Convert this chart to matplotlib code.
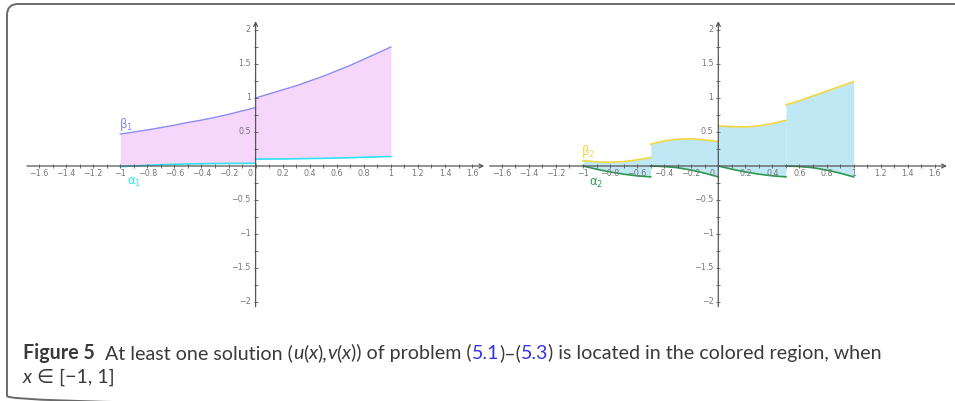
import matplotlib
matplotlib.use("Agg")
import matplotlib.pyplot as plt
from matplotlib.patches import FancyBboxPatch
import numpy as np

# ---------------- data ----------------
# left panel: bounds beta_1 (upper) and alpha_1 (lower), two pieces split at x = 0
x1_left = [-1.0, -0.9, -0.8, -0.7, -0.6, -0.5, -0.4, -0.3, -0.2, -0.1, 0.0]
beta1_left = [0.47, 0.50, 0.53, 0.565, 0.60, 0.64, 0.675, 0.715, 0.76, 0.81, 0.86]
alpha1_left = [-0.01, 0.0, 0.01, 0.018, 0.025, 0.03, 0.033, 0.036, 0.038, 0.039, 0.04]

x1_right = [0.0, 0.1, 0.2, 0.3, 0.4, 0.5, 0.6, 0.7, 0.8, 0.9, 1.0]
beta1_right = [1.00, 1.06, 1.12, 1.18, 1.25, 1.32, 1.40, 1.48, 1.57, 1.66, 1.75]
alpha1_right = [0.10, 0.102, 0.104, 0.107, 0.11, 0.113, 0.117, 0.122, 0.128, 0.134, 0.14]

# right panel: bounds beta_2 (upper) and alpha_2 (lower), four pieces
x2_pieces = [
    [-1.0, -0.9, -0.8, -0.7, -0.6, -0.5],
    [-0.5, -0.4, -0.3, -0.2, -0.1, 0.0],
    [0.0, 0.1, 0.2, 0.3, 0.4, 0.5],
    [0.5, 0.6, 0.7, 0.8, 0.9, 1.0],
]
beta2_pieces = [
    [0.08, 0.06, 0.055, 0.065, 0.09, 0.125],
    [0.32, 0.37, 0.395, 0.40, 0.385, 0.36],
    [0.59, 0.578, 0.575, 0.59, 0.625, 0.67],
    [0.90, 0.96, 1.03, 1.10, 1.17, 1.24],
]
alpha2_pieces = [
    [0.0, -0.047, -0.088, -0.12, -0.145, -0.16],
    [0.0, -0.008, -0.025, -0.06, -0.105, -0.16],
    [0.0, -0.047, -0.088, -0.12, -0.145, -0.16],
    [0.0, -0.008, -0.025, -0.06, -0.105, -0.16],
]

# axis ticks and labels
x_minor = [round(v, 1) for v in np.arange(-1.6, 1.61, 0.1)]
x_labels = ["-1.6", "-1.4", "-1.2", "-1", "-0.8", "-0.6", "-0.4", "-0.2", "0",
            "0.2", "0.4", "0.6", "0.8", "1", "1.2", "1.4", "1.6"]
x_label_pos = [-1.6, -1.4, -1.2, -1.0, -0.8, -0.6, -0.4, -0.2, 0.0,
               0.2, 0.4, 0.6, 0.8, 1.0, 1.2, 1.4, 1.6]
y_minor = [-2.0, -1.75, -1.5, -1.25, -1.0, -0.75, -0.5, -0.25,
           0.25, 0.5, 0.75, 1.0, 1.25, 1.5, 1.75, 2.0]
y_labels = ["-2", "-1.5", "-1", "-0.5", "0.5", "1", "1.5", "2"]
y_label_pos = [-2.0, -1.5, -1.0, -0.5, 0.5, 1.0, 1.5, 2.0]

# ---------------- styles ----------------
W, H = 955, 401
AXIS_C = "#555555"
TICK_C = "#777777"
B1_C, A1_C, FILL1 = "#8a8af2", "#2fe3f2", "#f6d6fb"
B2_C, A2_C, FILL2 = "#f0d640", "#2e9850", "#c0e7f4"

fig = plt.figure(figsize=(W / 100, H / 100), dpi=100)

# frame around the figure (top and left edges with rounded corners)
bg = fig.add_axes([0, 0, 1, 1], zorder=-5)
bg.set_xlim(0, W)
bg.set_ylim(H, 0)
bg.axis("off")
bg.add_patch(FancyBboxPatch((7, 4), 1000, 403,
                            boxstyle="round,pad=0,rounding_size=11",
                            fc="none", ec="#6a6a6a", lw=1.4))


def px_axes(x0, x1, y0, y1):
    return fig.add_axes([x0 / W, 1 - y1 / H, (x1 - x0) / W, (y1 - y0) / H])


def draw_axes(ax):
    ax.axis("off")
    arrow = dict(arrowstyle="->", color=AXIS_C, lw=0.9, shrinkA=0, shrinkB=0,
                 mutation_scale=7)
    ax.annotate("", xy=(1.69, 0), xytext=(-1.69, 0), arrowprops=arrow, zorder=4)
    ax.annotate("", xy=(0, 2.13), xytext=(0, -2.07), arrowprops=arrow, zorder=4)
    ax.plot(x_minor, [0] * len(x_minor), ls="none", marker="|", ms=3.2,
            mew=0.6, color=AXIS_C, zorder=4)
    ax.plot([0] * len(y_minor), y_minor, ls="none", marker="_", ms=3.2,
            mew=0.6, color=AXIS_C, zorder=4)
    for p, s in zip(x_label_pos, x_labels):
        xp = -0.045 if p == 0 else p
        ax.text(xp, -0.105, s.replace("-", "\u2212"), ha="center", va="center",
                fontsize=5.8, color=TICK_C, zorder=5)
    for p, s in zip(y_label_pos, y_labels):
        ax.text(-0.035, p, s.replace("-", "\u2212"), ha="right", va="center",
                fontsize=5.8, color=TICK_C, zorder=5)


# ---------------- left panel ----------------
axL = px_axes(20, 490, 15, 312)
axL.set_xlim((20 - 255.6) / 135.3, (490 - 255.6) / 135.3)
axL.set_ylim((166 - 312) / 68.0, (166 - 15) / 68.0)
draw_axes(axL)
for xs, bs, as_ in [(x1_left, beta1_left, alpha1_left),
                    (x1_right, beta1_right, alpha1_right)]:
    axL.fill_between(xs, as_, bs, color=FILL1, lw=0, zorder=1)
    axL.plot(xs, bs, color=B1_C, lw=1.0, zorder=3)
    axL.plot(xs, as_, color=A1_C, lw=1.2, zorder=3)
axL.text(-0.96, 0.61, "β$_1$", color=B1_C, fontsize=8.5, ha="center",
         va="center", zorder=6)
axL.text(-0.9, -0.24, "α$_1$", color=A1_C, fontsize=8.5, ha="center",
         va="center", zorder=6)

# ---------------- right panel ----------------
axR = px_axes(483, 950, 15, 312)
axR.set_xlim((483 - 718.3) / 135.3, (950 - 718.3) / 135.3)
axR.set_ylim((166 - 312) / 68.0, (166 - 15) / 68.0)
draw_axes(axR)
for xs, bs, as_ in zip(x2_pieces, beta2_pieces, alpha2_pieces):
    axR.fill_between(xs, as_, bs, color=FILL2, lw=0, zorder=1)
    axR.plot(xs, bs, color=B2_C, lw=1.2, zorder=3)
    axR.plot(xs, as_, color=A2_C, lw=1.2, zorder=3)
axR.text(-0.96, 0.21, "β$_2$", color=B2_C, fontsize=8.5, ha="center",
         va="center", zorder=6)
axR.text(-0.9, -0.25, "α$_2$", color=A2_C, fontsize=8.5, ha="center",
         va="center", zorder=6)

# ---------------- caption ----------------
CAP_C = "#3a3a3a"
REF_C = "#3535e0"
line1 = [
    ("Figure 5", "bold", "normal", CAP_C),
    ("  At least one solution (", "normal", "normal", CAP_C),
    ("u", "normal", "italic", CAP_C),
    ("(", "normal", "normal", CAP_C),
    ("x", "normal", "italic", CAP_C),
    ("),", "normal", "normal", CAP_C),
    ("v", "normal", "italic", CAP_C),
    ("(", "normal", "normal", CAP_C),
    ("x", "normal", "italic", CAP_C),
    (")) of problem (", "normal", "normal", CAP_C),
    ("5.1", "normal", "normal", REF_C),
    (")\u2013(", "normal", "normal", CAP_C),
    ("5.3", "normal", "normal", REF_C),
    (") is located in the colored region, when", "normal", "normal", CAP_C),
]
line2 = [
    ("x", "normal", "italic", CAP_C),
    (" \u2208 [\u22121, 1]", "normal", "normal", CAP_C),
]

renderer = fig.canvas.get_renderer()
CAP_FONT = ["Lato", "DejaVu Sans"]


def place(parts, x0, y_base, size):
    x = x0
    arts = []
    for s, wgt, sty, col in parts:
        t = fig.text(x / W, 1 - y_base / H, s, fontsize=size, fontweight=wgt,
                     fontstyle=sty, color=col, family=CAP_FONT, va="baseline",
                     ha="left")
        bb = t.get_window_extent(renderer)
        x = bb.x1
        arts.append(t)
    return arts, x - x0


arts, width = place(line1, 23, 359, 12)
for a in arts:
    a.remove()
size = 12 * 852.0 / width
place(line1, 23, 359, size)
place(line2, 23, 383, size)

fig.savefig("out.png", dpi=100)
